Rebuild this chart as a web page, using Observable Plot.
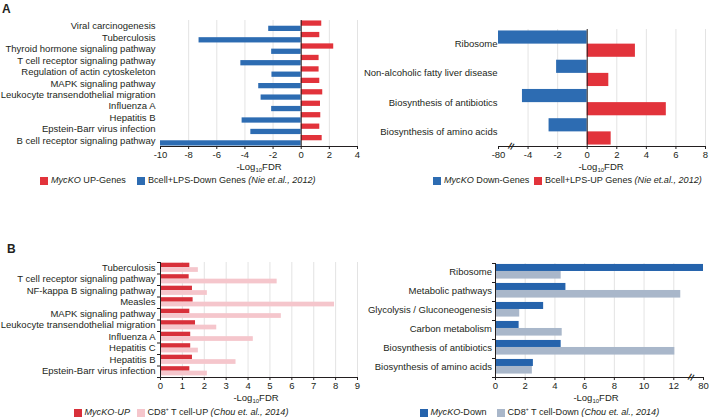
<!DOCTYPE html>
<html>
<head>
<meta charset="utf-8">
<script src="https://cdn.jsdelivr.net/npm/d3@7"></script>
<script src="https://cdn.jsdelivr.net/npm/@observablehq/plot@0.6"></script>
<style>
  body { margin: 0; background: #fff; }
  #fig { position: relative; width: 709px; height: 420px; overflow: hidden;
         font-family: "Liberation Sans", Arial, Helvetica, sans-serif; color: #231f20; background: #fff; }
  .abs { position: absolute; white-space: nowrap; line-height: 1; }
  .letter { font-weight: bold; font-size: 12px; }
  .atitle { font-size: 9.5px; transform: translate(-50%, -50%); }
  .atitle sub { font-size: 6px; vertical-align: -2px; line-height: 0; }
  .leg { display: flex; align-items: center; font-size: 9.1px; height: 8px; }
  .sw { display: inline-block; width: 8px; height: 8px; margin-right: 3px; flex: none; }
</style>
</head>
<body>
<div id="fig"></div>
<script>
// ---------------- DATA ----------------
// Panel A (left)
const aLeftCategories = ["Viral carcinogenesis", "Tuberculosis", "Thyroid hormone signaling pathway",
  "T cell receptor signaling pathway", "Regulation of actin cytoskeleton", "MAPK signaling pathway",
  "Leukocyte transendothelial migration", "Influenza A", "Hepatitis B", "Epstein-Barr virus infection",
  "B cell receptor signaling pathway"];
const aLeftMycKOUp = [1.46, 1.32, 2.31, 1.27, 1.27, 1.32, 1.53, 1.37, 1.39, 1.32, 1.49];
const aLeftBcellLPSDown = [-2.31, -7.26, -2.1, -4.29, -2.08, -3.02, -2.85, -2.1, -4.2, -3.58, -10];
const aLeftTicks = [-10, -8, -6, -4, -2, 0, 2, 4];

// Panel A (right)  (axis broken: leftmost tick stands for -80)
const aRightCategories = ["Ribosome", "Non-alcoholic fatty liver disease", "Biosynthesis of antibiotics",
  "Biosynthesis of amino acids"];
const aRightMycKODown = [-80, -2.07, -4.38, -2.58];
const aRightBcellLPSUp = [3.26, 1.46, 5.35, 1.62];
const aRightTicks = [-6, -4, -2, 0, 2, 4, 6, 8];
const aRightTickLabels = ["-80", "-4", "-2", "0", "2", "4", "6", "8"];
const aRightBreak = [-5.15];

// Panel B (left)
const bLeftCategories = ["Tuberculosis", "T cell receptor signaling pathway", "NF-kappa B signaling pathway",
  "Measles", "MAPK signaling pathway", "Leukocyte transendothelial migration", "Influenza A",
  "Hepatitis C", "Hepatitis B", "Epstein-Barr virus infection"];
const bLeftMycKOUp = [1.34, 1.31, 1.46, 1.49, 1.34, 1.6, 1.38, 1.38, 1.46, 1.34];
const bLeftCD8Up = [1.73, 5.33, 2.14, 7.95, 5.52, 2.57, 4.24, 1.73, 3.45, 2.14];
const bLeftTicks = [0, 1, 2, 3, 4, 5, 6, 7, 8, 9];

// Panel B (right)  (axis broken: rightmost tick stands for 80)
const bRightCategories = ["Ribosome", "Metabolic pathways", "Glycolysis / Gluconeogenesis",
  "Carbon metabolism", "Biosynthesis of antibiotics", "Biosynthesis of amino acids"];
const bRightMycKODown = [80, 4.74, 3.24, 1.59, 4.42, 2.55];
const bRightCD8Down = [4.42, 12.47, 1.63, 4.49, 12.07, 2.48];
const bRightTicks = [0, 2, 4, 6, 8, 10, 12, 14];
const bRightTickLabels = ["0", "2", "4", "6", "8", "10", "12", "80"];
const bRightBreak = [13.15];

// ---------------- DRAWING ----------------
const fig = document.getElementById("fig");
const INK = "#231f20";

function panel(cfg) {
  const n = cfg.categories.length;
  const marks = [
    Plot.gridX({ticks: cfg.grid, stroke: "#dcdcdc", strokeOpacity: 1, strokeWidth: 0.8})
  ];
  for (const s of cfg.series) {
    const rows = s.values.map((v, i) => ({i, v}));
    marks.push(Plot.rect(rows, {
      x1: () => 0, x2: "v",
      y1: d => d.i + s.band[0], y2: d => d.i + s.band[1],
      fill: s.color
    }));
  }
  marks.push(Plot.ruleX([0], {stroke: INK, strokeWidth: 1}));
  marks.push(Plot.ruleY([n], {stroke: INK, strokeWidth: 1}));
  marks.push(Plot.axisX({
    ticks: cfg.ticks,
    tickFormat: cfg.tickLabels ? (d => cfg.tickLabels[cfg.ticks.indexOf(d)]) : (d => String(d)),
    tickSize: 3, tickPadding: 2, label: null, anchor: "bottom", fontSize: 9.5
  }));
  marks.push(Plot.axisY({
    ticks: d3.range(n).map(i => i + cfg.labelAt),
    tickFormat: d => cfg.categories[Math.floor(d)],
    tickSize: 0, tickPadding: cfg.labelPad, label: null, anchor: "left", fontSize: 9.5
  }));
  if (cfg.boundaryTicks) {
    marks.push(Plot.axisY({
      ticks: d3.range(n + 1), tickSize: 3, tickFormat: () => "", label: null, anchor: "left"
    }));
  }
  if (cfg.breakAt) {
    marks.push(Plot.text(cfg.breakAt, {
      x: d => d, y: () => n, text: () => "//", fontSize: 9, fontWeight: "bold",
      fill: INK, rotate: 20
    }));
  }
  const svg = Plot.plot({
    width: cfg.width, height: cfg.height,
    marginTop: cfg.mt, marginBottom: cfg.mb, marginLeft: cfg.ml, marginRight: cfg.mr,
    x: {domain: cfg.domain, clamp: true, label: null},
    y: {domain: [0, n], reverse: true, label: null},
    marks,
    style: {background: "transparent", overflow: "visible", color: INK,
            fontFamily: '"Liberation Sans", Arial, Helvetica, sans-serif', fontSize: "9.5px"}
  });
  svg.style.position = "absolute";
  svg.style.left = cfg.left + "px";
  svg.style.top = cfg.top + "px";
  fig.appendChild(svg);
}

panel({
  categories: aLeftCategories,
  series: [
    {values: aLeftMycKOUp, color: "#e2333b", band: [0.04, 0.5]},
    {values: aLeftBcellLPSDown, color: "#2d6cb2", band: [0.5, 0.96]}
  ],
  domain: [-10, 4], ticks: aLeftTicks, grid: [-8, -6, -4, -2, 2, 4],
  labelAt: 0.5, labelPad: 5,
  left: 0, top: 0, width: 367, height: 162, mt: 20, mb: 16, ml: 160, mr: 10
});

panel({
  categories: aRightCategories,
  series: [
    {values: aRightMycKODown, color: "#2d6cb2", band: [0.05, 0.5]},
    {values: aRightBcellLPSUp, color: "#e2333b", band: [0.5, 0.95]}
  ],
  domain: [-6, 8], ticks: aRightTicks, tickLabels: aRightTickLabels, grid: [-4, -2, 2, 4, 6, 8],
  labelAt: 0.5, labelPad: 1, breakAt: aRightBreak,
  left: 360, top: 0, width: 349, height: 162, mt: 29, mb: 16, ml: 138, mr: 4
});

panel({
  categories: bLeftCategories,
  series: [
    {values: bLeftMycKOUp, color: "#d8303a", band: [0.06, 0.45]},
    {values: bLeftCD8Up, color: "#f5c6cc", band: [0.45, 0.86]}
  ],
  domain: [0, 9], ticks: bLeftTicks, grid: [1, 2, 3, 4, 5, 6, 7, 8, 9],
  labelAt: 0.45, labelPad: 5, boundaryTicks: true,
  left: 0, top: 250, width: 367, height: 145, mt: 12, mb: 18, ml: 160, mr: 10
});

panel({
  categories: bRightCategories,
  series: [
    {values: bRightMycKODown, color: "#2563ac", band: [0.05, 0.42]},
    {values: bRightCD8Down, color: "#a9b7ca", band: [0.42, 0.82]}
  ],
  domain: [0, 14], ticks: bRightTicks, tickLabels: bRightTickLabels, grid: [2, 4, 6, 8, 10, 12],
  labelAt: 0.45, labelPad: 3.5, boundaryTicks: true, breakAt: bRightBreak,
  left: 360, top: 250, width: 349, height: 145, mt: 13, mb: 18, ml: 135, mr: 6
});

// ---------------- TEXT: letters, axis titles, legends ----------------
function addHTML(cls, left, top, html) {
  const d = document.createElement("div");
  d.className = "abs " + cls;
  d.style.left = left + "px";
  d.style.top = top + "px";
  d.innerHTML = html;
  fig.appendChild(d);
}
addHTML("letter", 2, 3, "A");
addHTML("letter", 7, 243, "B");

const axisTitle = "-Log<sub>10</sub>FDR";
addHTML("atitle", 259, 166.5, axisTitle);
addHTML("atitle", 601, 166.5, axisTitle);
addHTML("atitle", 256, 398, axisTitle);
addHTML("atitle", 596, 398, axisTitle);

function legendItem(left, top, color, html, size) {
  addHTML("leg", left, top, `<span class="sw" style="background:${color};width:${size}px;height:${size}px"></span><span>${html}</span>`);
}
const sup = '<sup style="font-size:5px;vertical-align:4px;line-height:0">+</sup>';
legendItem(40, 177, "#e2333b", "<i>MycKO</i> UP-Genes", 8);
legendItem(137, 177, "#2d6cb2", "Bcell+LPS-Down Genes <i>(Nie et.al., 2012)</i>", 8);
legendItem(433, 177, "#2d6cb2", "<i>MycKO</i> Down-Genes", 8);
legendItem(534, 177, "#e2333b", "Bcell+LPS-UP Genes <i>(Nie et.al., 2012)</i>", 8);
legendItem(74, 409, "#d8303a", "<i>MycKO-UP</i>", 7.5);
legendItem(137, 409, "#f5c6cc", "CD8" + sup + " T cell-UP <i>(Chou et. al., 2014)</i>", 7.5);
legendItem(420, 409, "#2563ac", "<i>MycKO</i>-Down", 7.5);
legendItem(497, 409, "#a9b7ca", "CD8" + sup + " T cell-Down <i>(Chou et. al., 2014)</i>", 7.5);
</script>
</body>
</html>
